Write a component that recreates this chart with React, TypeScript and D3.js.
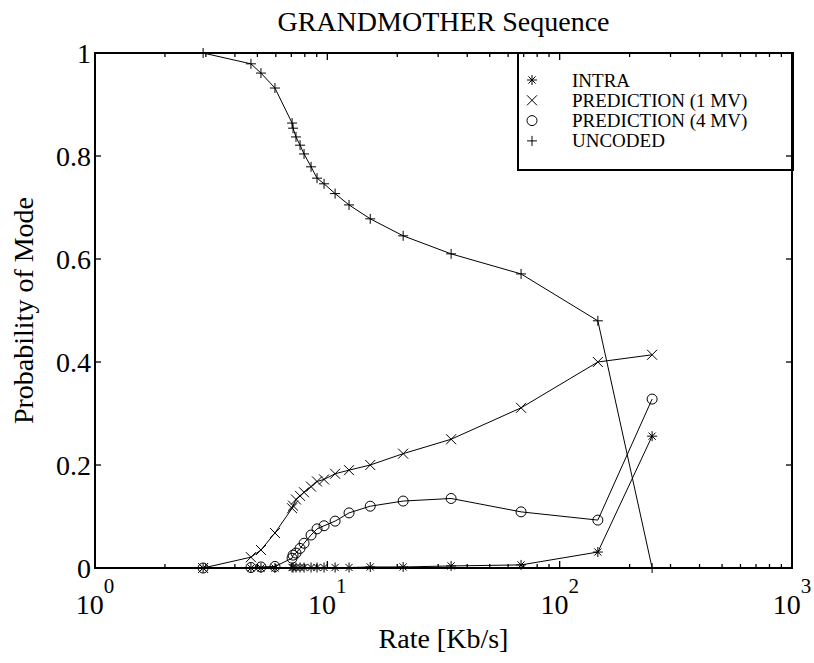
import * as d3 from 'd3';

// rates (Kb/s) shared by all four series
const rates = [2.92, 4.69, 5.18, 5.95, 7.05, 7.12, 7.33, 7.63, 7.94, 8.51, 9.03, 9.68, 10.8, 12.4, 15.3, 21.2, 34.1, 68.2, 146, 250];
const intra = [0, 0, 0, 0, 0.001, 0.001, 0.001, 0.001, 0.001, 0.001, 0.001, 0.001, 0.001, 0.001, 0.002, 0.002, 0.004, 0.006, 0.031, 0.256];
const pred1 = [0, 0.021, 0.035, 0.068, 0.116, 0.121, 0.133, 0.14, 0.147, 0.158, 0.168, 0.172, 0.183, 0.19, 0.2, 0.222, 0.25, 0.311, 0.4, 0.414];
const pred4 = [0, 0.001, 0.002, 0.003, 0.019, 0.025, 0.029, 0.038, 0.048, 0.064, 0.076, 0.082, 0.091, 0.107, 0.12, 0.13, 0.135, 0.109, 0.093, 0.328];
const uncoded = [1.0, 0.979, 0.961, 0.932, 0.864, 0.854, 0.837, 0.821, 0.804, 0.779, 0.757, 0.746, 0.727, 0.705, 0.678, 0.645, 0.61, 0.571, 0.48, 0];

const seriesNames = ['INTRA', 'PREDICTION (1 MV)', 'PREDICTION (4 MV)', 'UNCODED'];
const seriesMarkers = ['star', 'x', 'o', 'plus'];
const seriesValues = [intra, pred1, pred4, uncoded];

const yTicks = [0, 0.2, 0.4, 0.6, 0.8, 1];
const yTickLabels = ['0', '0.2', '0.4', '0.6', '0.8', '1'];
const xDecades = [1, 10, 100, 1000];
const xExponents = ['0', '1', '2', '3'];

const W = 814, H = 663;
const left = 95, right = 792, top = 53, bottom = 568;
const font = '"Liberation Serif", "Times New Roman", serif';

function Marker({ kind, x, y }: { kind: string; x: number; y: number }) {
  const r = 5;
  const s = { stroke: '#000', strokeWidth: 1, fill: 'none' };
  if (kind === 'o') return <circle cx={x} cy={y} r={r} {...s} />;
  const plus = `M${x - r},${y}H${x + r}M${x},${y - r}V${y + r}`;
  const d = r * 0.72;
  const cross = `M${x - d},${y - d}L${x + d},${y + d}M${x - d},${y + d}L${x + d},${y - d}`;
  if (kind === 'plus') return <path d={plus} {...s} />;
  if (kind === 'x') return <path d={`M${x - r},${y - r}L${x + r},${y + r}M${x - r},${y + r}L${x + r},${y - r}`} {...s} />;
  return <path d={plus + cross} {...s} />;
}

export default function App() {
  const x = d3.scaleLog().domain([1, 1000]).range([left, right]);
  const y = d3.scaleLinear().domain([0, 1]).range([bottom, top]);
  const line = d3.line<[number, number]>().x(d => x(d[0])).y(d => y(d[1]));

  const minor: number[] = [];
  xDecades.slice(0, 3).forEach(dec => {
    for (let k = 2; k <= 9; k++) minor.push(dec * k);
  });

  const lx = 518, ly = top, lw = right + 1 - lx, lh = 117;

  return (
    <svg width={W} height={H} style={{ position: 'absolute', left: 0, top: 0, background: '#fff' }} fontFamily={font}>
      <rect x={0} y={0} width={W} height={H} fill="#fff" />

      {seriesValues.map((vals, i) => (
        <g key={i}>
          <path d={line(rates.map((r, j) => [r, vals[j]]) as [number, number][]) || ''} fill="none" stroke="#000" strokeWidth={1} />
          {rates.map((r, j) => (
            <Marker key={j} kind={seriesMarkers[i]} x={x(r)} y={y(vals[j])} />
          ))}
        </g>
      ))}

      {/* legend */}
      <rect x={lx} y={ly} width={lw} height={lh} fill="#fff" stroke="#000" strokeWidth={2} />
      {seriesNames.map((name, i) => {
        const ry = ly + 27 + i * 20.3;
        return (
          <g key={name}>
            <Marker kind={seriesMarkers[i]} x={lx + 14} y={ry} />
            <text x={lx + 54} y={ry} dominantBaseline="central" fontSize={19}>{name}</text>
          </g>
        );
      })}

      {/* axes box */}
      <rect x={left} y={top} width={right - left} height={bottom - top} fill="none" stroke="#000" strokeWidth={2} />
      {yTicks.map(t => (
        <g key={t}>
          <line x1={left} x2={left + 6} y1={y(t)} y2={y(t)} stroke="#000" strokeWidth={1.3} />
          <line x1={right} x2={right - 6} y1={y(t)} y2={y(t)} stroke="#000" strokeWidth={1.3} />
        </g>
      ))}
      {xDecades.map(t => (
        <g key={t}>
          <line x1={x(t)} x2={x(t)} y1={bottom} y2={bottom - 7} stroke="#000" strokeWidth={1.3} />
          <line x1={x(t)} x2={x(t)} y1={top} y2={top + 7} stroke="#000" strokeWidth={1.3} />
        </g>
      ))}
      {minor.map(t => (
        <g key={t}>
          <line x1={x(t)} x2={x(t)} y1={bottom} y2={bottom - 4} stroke="#000" strokeWidth={1.3} />
          <line x1={x(t)} x2={x(t)} y1={top} y2={top + 4} stroke="#000" strokeWidth={1.3} />
        </g>
      ))}

      {/* tick labels */}
      {yTicks.map((t, i) => (
        <text key={t} x={left - 4} y={y(t)} textAnchor="end" dominantBaseline="central" fontSize={28}>{yTickLabels[i]}</text>
      ))}
      {xDecades.map((t, i) => (
        <text key={t} x={x(t)} y={614} textAnchor="middle" fontSize={28}>
          10<tspan fontSize={21} dy={-21}>{xExponents[i]}</tspan>
        </text>
      ))}

      <text x={(left + right) / 2} y={31} textAnchor="middle" fontSize={28}>GRANDMOTHER Sequence</text>
      <text x={(left + right) / 2} y={648} textAnchor="middle" fontSize={28}>Rate [Kb/s]</text>
      <text transform={`translate(33,${(top + bottom) / 2}) rotate(-90)`} textAnchor="middle" fontSize={28}>Probability of Mode</text>
    </svg>
  );
}
